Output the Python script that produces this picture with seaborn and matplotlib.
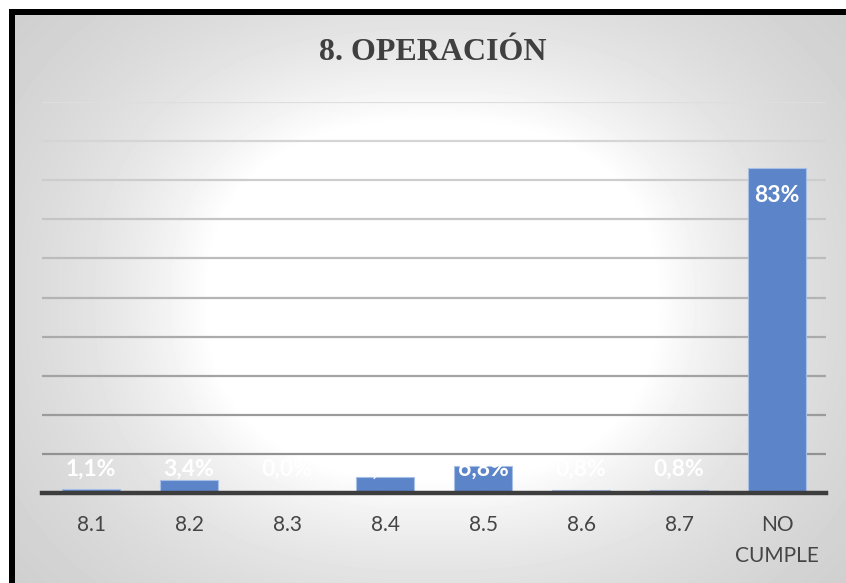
import numpy as np
import matplotlib
matplotlib.use("Agg")
import matplotlib.pyplot as plt
from matplotlib.patches import Rectangle
import seaborn as sns

# Data
categories = ["8.1", "8.2", "8.3", "8.4", "8.5", "8.6", "8.7", "NO\nCUMPLE"]
values = [1.1, 3.4, 0.0, 4.1, 6.8, 0.8, 0.8, 83.0]
title = "8. OPERACIÓN"

W, H = 846, 583
sns.set_theme(style="white")
plt.rcParams["font.family"] = ["Lato", "DejaVu Sans"]

fig = plt.figure(figsize=(W / 100, H / 100), dpi=100)
fig.patch.set_facecolor("white")

# Background panel with a soft gradient (white centre, grey edges)
bg = fig.add_axes([0, 0, 1, 1], zorder=0)
bg.axis("off")
yy, xx = np.mgrid[-2:H + 2, -2:W + 2] + 0.5
p = 2.4
d = ((np.abs(xx - 432) / 222.0) ** p + (np.abs(yy - 300) / 178.0) ** p) ** (1 / p)
drop = 62 * (1 - np.exp(-1.1 * np.clip(d - 1, 0, None)))
img = (255 - drop) / 255.0
img[(xx < 9) | (yy < 9)] = 1.0
bg.imshow(img, cmap="gray", vmin=0, vmax=1, extent=(-2, W + 2, H + 2, -2),
          interpolation="nearest", aspect="auto")
bg.set_xlim(0, W)
bg.set_ylim(H, 0)
bg.add_patch(Rectangle((9, 9), 6, H - 9, color="black", lw=0))
bg.add_patch(Rectangle((9, 9), W - 9, 5.5, color="black", lw=0))

# Plot area
ax = fig.add_axes([42 / W, 90 / H, 784 / W, 391 / H], zorder=1)
ax.patch.set_alpha(0)
sns.barplot(x=categories, y=values, color="#5b84c9", saturation=1,
            width=0.6, edgecolor="#a8bfe6", linewidth=0.8, ax=ax, zorder=2)
ax.set_xlim(-0.5, len(categories) - 0.5)
ax.set_ylim(0, 100)
ax.set_yticks(np.arange(0, 101, 10))
ax.set_yticklabels([])
ax.set_xlabel("")
ax.set_ylabel("")
ax.yaxis.grid(True, linewidth=1.6, zorder=0)
ax.set_axisbelow(True)
for i, gl in enumerate(ax.get_ygridlines()):
    shade = 0.54 + 0.33 * (i / 10)
    gl.set_color((shade, shade, shade))

for s in ["top", "right", "left"]:
    ax.spines[s].set_visible(False)
ax.spines["bottom"].set_color("#3d3d3d")
ax.spines["bottom"].set_linewidth(3.2)
ax.tick_params(axis="both", length=0)
ax.tick_params(axis="x", pad=16, labelcolor="#454545")
for lbl in ax.get_xticklabels():
    lbl.set_fontsize(15)
    lbl.set_linespacing(1.65)

# Value labels (white, bold)
for i, v in enumerate(values):
    txt = f"{v:.0f}%" if v >= 10 else f"{v:.1f}%".replace(".", ",")
    ax.text(i, max(v, 13) - 7, txt, ha="center", va="center", color="white",
            fontsize=16.5, fontweight="bold", zorder=5)

fig.text(433 / W, 1 - 52 / H, title, ha="center", va="center",
         family=["Liberation Serif", "DejaVu Serif"], fontweight="bold",
         fontsize=23, color="#404040")

fig.savefig("out.png", dpi=100)
